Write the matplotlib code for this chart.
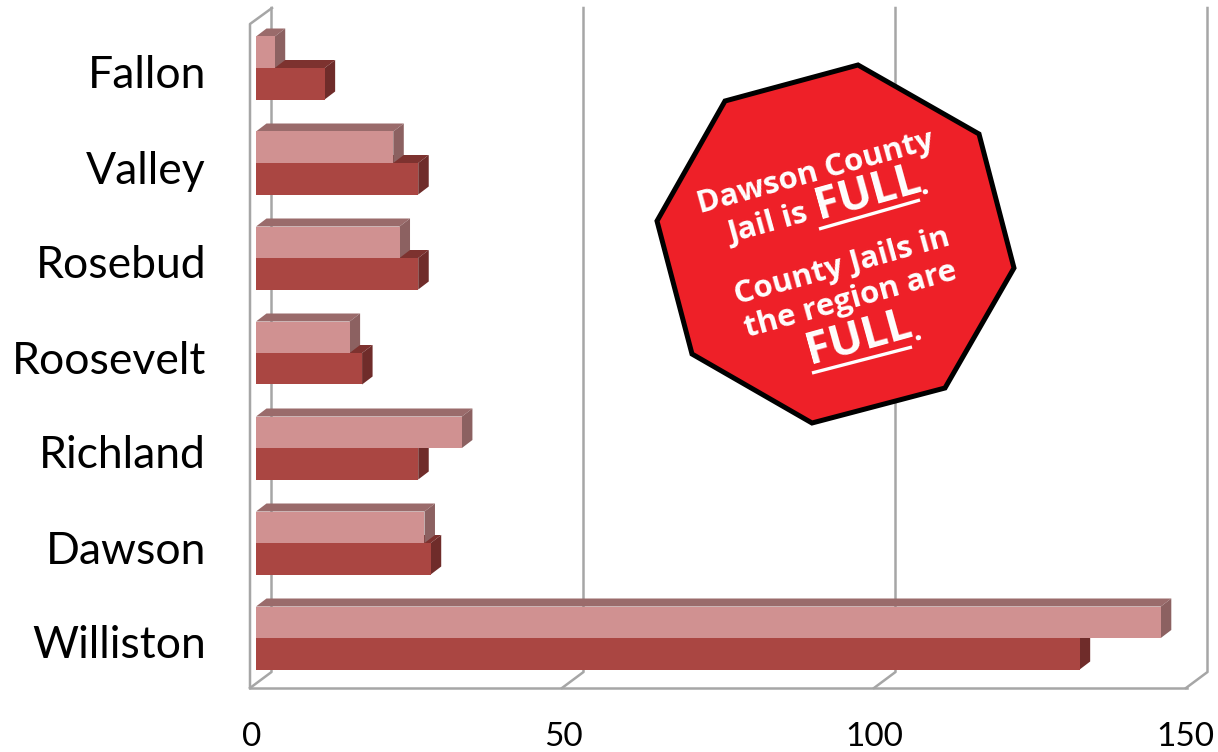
import numpy as np
import matplotlib.pyplot as plt
from matplotlib.patches import Polygon

W, H = 1218, 752

counties = ["Williston", "Dawson", "Richland", "Roosevelt", "Rosebud", "Valley", "Fallon"]
light_vals = [145, 27, 33, 15, 23, 22, 3]
dark_vals = [132, 28, 26, 17, 26, 26, 11]
x_ticks = [0, 50, 100, 150]
octagon_px = [(858, 65), (979, 134), (1014, 268), (945, 388),
              (812, 423), (692, 354), (657, 221), (725, 101)]

px_per_unit = 6.24
px_per_cat = 95.0
x0_px = 256
y0_px = 638
floor_px = 688
bar_h = 31.5 / px_per_cat
dx = 10.5 / px_per_unit
dy = 8 / px_per_cat

plt.rcParams['font.family'] = ['Lato', 'DejaVu Sans']
fig = plt.figure(figsize=(W / 100, H / 100), dpi=100)
ax = fig.add_axes([0, 0, 1, 1])
ax.set_xlim(-x0_px / px_per_unit, (W - x0_px) / px_per_unit)
ax.set_ylim((y0_px - H) / px_per_cat, y0_px / px_per_cat)
ax.axis('off')


def px(x, y):
    return (x - x0_px) / px_per_unit, (y0_px - y) / px_per_cat


def wall(points):
    ax.plot(*zip(*[px(a, b) for a, b in points]), color='#a6a6a6', lw=1.8, zorder=1)


# chart walls
wall([(250, floor_px), (250, 24), (272, 8)])
wall([(250, floor_px), (1187, floor_px)])
for t in x_ticks:
    xf = 250 + t * px_per_unit
    wall([(xf, floor_px), (xf + 21.5, 672), (xf + 21.5, 8)])


def draw_bars(vals, bottom, front, top, side, z):
    for i, v in enumerate(vals):
        y = i + bottom
        ax.add_patch(Polygon([(0, y + bar_h), (dx, y + bar_h + dy), (v + dx, y + bar_h + dy), (v, y + bar_h)],
                             fc=top, ec='none', zorder=z))
        ax.add_patch(Polygon([(v, y), (v + dx, y + dy), (v + dx, y + bar_h + dy), (v, y + bar_h)],
                             fc=side, ec='none', zorder=z))
        ax.barh(i + bottom + bar_h / 2, v, height=bar_h, color=front, zorder=z)


draw_bars(dark_vals, -bar_h, '#aa4642', '#7d322f', '#6f2c2a', 2)
draw_bars(light_vals, 0, '#d09191', '#9a6b6b', '#8c6161', 3)

for i, name in enumerate(counties):
    ax.text((206 - x0_px) / px_per_unit, i - 8 / px_per_cat, name, ha='right', va='center', fontsize=32, color='black')
for t in x_ticks:
    ax.text((252 - x0_px) / px_per_unit + t * 0.997, (y0_px - 737) / px_per_cat, str(t), ha='center', va='center',
            fontsize=24, color='black')

# stop sign callout
ax.add_patch(Polygon([px(a, b) for a, b in octagon_px], closed=True, fc='#ee2028', ec='black', lw=3.6, zorder=5))
rot = 15.5
callout = dict(color='white', rotation=rot, rotation_mode='anchor', ha='center', va='center',
               family=['Open Sans', 'DejaVu Sans'], weight='bold', zorder=6)
for s, a, b, fs in [("Dawson County", 816, 173, 22.5),
                    ("Jail is", 768, 225, 22.5),
                    ("FULL", 868, 193, 32),
                    (".", 923, 186, 22.5),
                    ("County Jails in", 842, 267, 22.5),
                    ("the region are", 851, 300, 22.5),
                    ("FULL", 859, 338, 32),
                    (".", 916, 332, 22.5)]:
    x, y = px(a, b)
    ax.text(x, y, s, fontsize=fs, **callout)
for (a, b), (c, d) in [((819, 229), (920, 200)), ((812, 373), (912, 347))]:
    ax.plot(*zip(px(a, b), px(c, d)), color='white', lw=2.4, zorder=6, solid_capstyle='butt')

fig.savefig('out.png', dpi=100)
